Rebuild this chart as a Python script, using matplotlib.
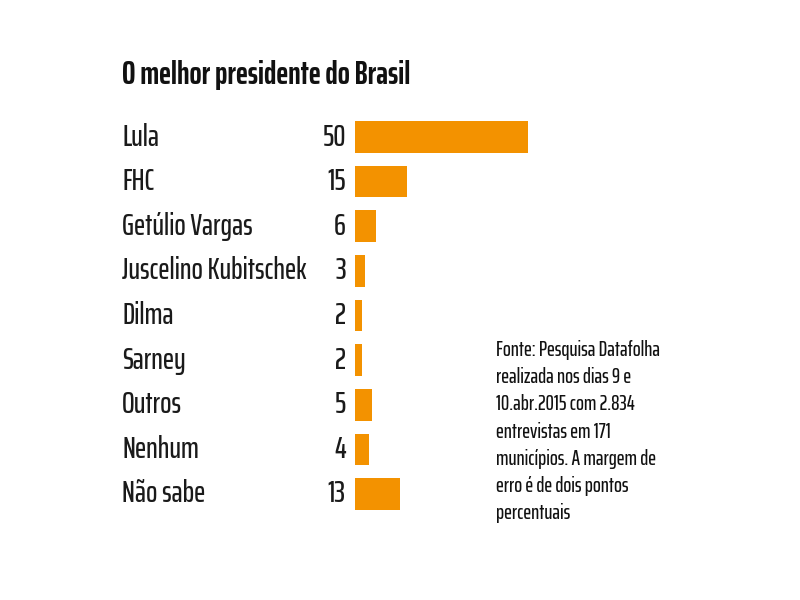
import matplotlib.pyplot as plt
from matplotlib.transforms import blended_transform_factory

# dados
nomes = ['Lula', 'FHC', 'Getúlio Vargas', 'Juscelino Kubitschek', 'Dilma',
         'Sarney', 'Outros', 'Nenhum', 'Não sabe']
valores = [50, 15, 6, 3, 2, 2, 5, 4, 13]

titulo = 'O melhor presidente do Brasil'
nota = ('Fonte: Pesquisa Datafolha\nrealizada nos dias 9 e\n10.abr.2015 com 2.834\n'
        'entrevistas em 171\nmunicípios. A margem de\nerro é de dois pontos\npercentuais')

laranja = '#F39200'
plt.rcParams['font.family'] = ['Saira ExtraCondensed', 'Sofia Sans Extra Condensed',
                               'Barlow Condensed', 'DejaVu Sans']

fig = plt.figure(figsize=(8, 6), dpi=100)
fig.patch.set_facecolor('white')

# eixo das barras: começa em x=355px, 50 unidades = 173px
ax = fig.add_axes([355 / 800, 1 - 516.3 / 600, 346 / 800, 401.6 / 600])
pos = list(range(len(nomes)))
ax.barh(pos, valores, height=0.71, color=laranja)
ax.set_xlim(0, 100)
ax.set_ylim(len(nomes) - 0.5, -0.5)
ax.axis('off')

# rótulos: nome à esquerda, valor alinhado à direita antes da barra
trans = blended_transform_factory(fig.transFigure, ax.transData)
for i, (nome, v) in enumerate(zip(nomes, valores)):
    ax.text(122 / 800, i, nome, transform=trans, ha='left', va='center',
            fontsize=21.5, fontweight='medium', color='#1a1a1a')
    ax.text(346 / 800, i, str(v), transform=trans, ha='right', va='center',
            fontsize=22, fontweight='medium', color='#1a1a1a')

fig.text(122 / 800, 1 - 75 / 600, titulo, ha='left', va='center',
         fontsize=23, fontweight='bold', color='#111111')

fig.text(496 / 800, 1 - 340 / 600, nota, ha='left', va='top',
         fontsize=15, fontweight='medium', color='#111111', linespacing=1.45)

fig.savefig('out.png', dpi=100)
